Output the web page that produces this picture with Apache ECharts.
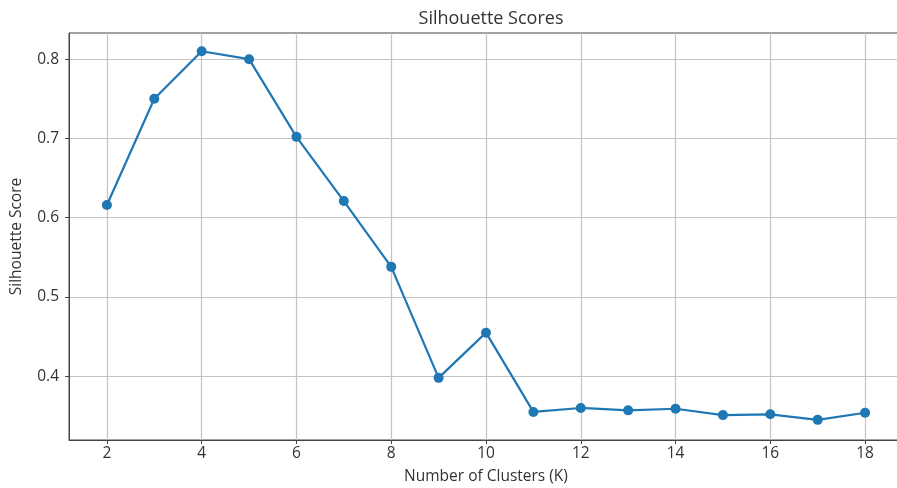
<!DOCTYPE html>
<html>
<head>
<meta charset="utf-8">
<script src="https://cdn.jsdelivr.net/npm/echarts@6/dist/echarts.min.js"></script>
<style>html,body{margin:0;padding:0;background:#fff}#c{width:897px;height:488px}</style>
</head>
<body>
<div id="c"></div>
<script>
const kValues = [2,3,4,5,6,7,8,9,10,11,12,13,14,15,16,17,18];
const scores = [0.616,0.750,0.810,0.800,0.702,0.621,0.538,0.398,0.455,0.355,0.360,0.357,0.359,0.351,0.352,0.345,0.354];
const xTicks = [2,4,6,8,10,12,14,16,18];
const yTicks = [0.4,0.5,0.6,0.7,0.8];

const chart = echarts.init(document.getElementById('c'));
const font = '"Open Sans", "DejaVu Sans", sans-serif';
chart.setOption({
  animation: false,
  backgroundColor: '#fff',
  title: {
    text: 'Silhouette Scores', left: 486, top: 5, textAlign: 'center',
    textStyle: {fontFamily: font, fontSize: 18, fontWeight: 'normal', color: '#333'}
  },
  grid: {left: 69, top: 33, height: 407, width: 834, outerBoundsMode: 'none', containLabel: false,
    show: true, borderColor: '#444', borderWidth: 1, backgroundColor: 'transparent'},
  xAxis: {
    type: 'value', min: 1.2, max: 18.8,
    name: 'Number of Clusters (K)', nameLocation: 'middle', nameGap: 29,
    nameTextStyle: {fontFamily: font, fontSize: 15.5, color: '#333'},
    axisLine: {show: true, lineStyle: {color: '#444', width: 1}},
    axisTick: {show: true, length: 4, lineStyle: {color: '#444'}, customValues: xTicks},
    axisLabel: {fontFamily: font, fontSize: 15.5, color: '#333', margin: 6, customValues: xTicks},
    splitLine: {show: true, lineStyle: {color: '#c4c4c4', width: 1.2}}
  },
  yAxis: {
    type: 'value', min: 0.3196, max: 0.833,
    name: 'Silhouette Score', nameLocation: 'middle', nameGap: 44,
    nameTextStyle: {fontFamily: font, fontSize: 15.5, color: '#333'},
    axisLine: {show: true, lineStyle: {color: '#444', width: 1}},
    axisTick: {show: true, length: 4, lineStyle: {color: '#444'}, customValues: yTicks},
    axisLabel: {fontFamily: font, fontSize: 15.5, color: '#333', margin: 10, customValues: yTicks,
      formatter: v => v.toFixed(1)},
    splitLine: {show: true, lineStyle: {color: '#c4c4c4', width: 1.2}}
  },
  series: [{
    type: 'line',
    data: kValues.map((k, i) => [k, scores[i]]),
    symbol: 'circle', symbolSize: 10,
    lineStyle: {color: '#1f77b4', width: 2.2},
    itemStyle: {color: '#1f77b4'}
  }]
});
</script>
</body>
</html>
